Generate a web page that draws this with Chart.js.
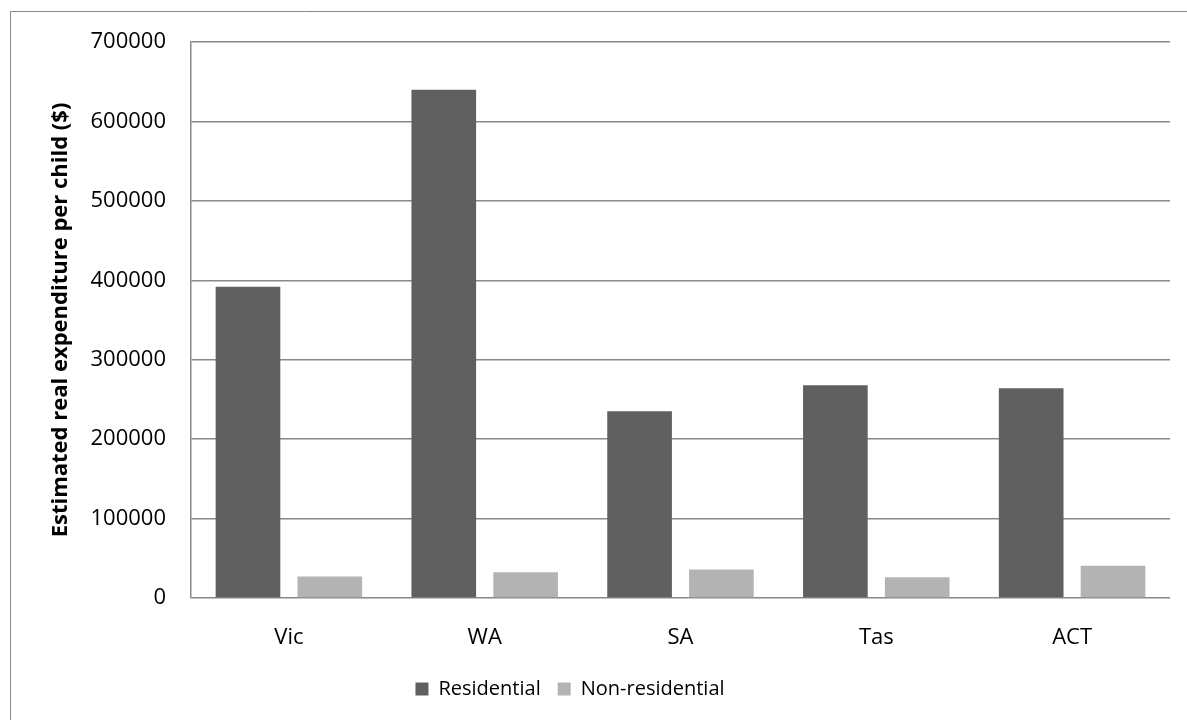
<!DOCTYPE html>
<html>
<head>
<meta charset="utf-8">
<script src="https://cdn.jsdelivr.net/npm/chart.js@4.4.0/dist/chart.umd.min.js"></script>
<style>
  body { margin: 0; background: #fff; }
  #wrap { width: 1187px; height: 720px; position: relative; }
</style>
</head>
<body>
<div id="wrap"><canvas id="canvas" width="1187" height="720"></canvas></div>
<script>
// categorias e valores
var estados = ['Vic', 'WA', 'SA', 'Tas', 'ACT'];
var residencial = [392000, 640000, 235000, 268000, 264000];
var naoResidencial = [27000, 32500, 36000, 26000, 40500];
var nomesSeries = ['Residential', 'Non-residential'];
var tituloY = 'Estimated real expenditure per child ($)';

var fonte = "'Open Sans', sans-serif";

// moldura cinza do grafico (so esquerda e topo aparecem)
var moldura = {
  id: 'moldura',
  beforeDraw: function(chart) {
    var ctx = chart.ctx;
    ctx.save();
    ctx.fillStyle = '#fff';
    ctx.fillRect(0, 0, chart.width, chart.height);
    ctx.strokeStyle = '#898989';
    ctx.lineWidth = 1;
    ctx.beginPath();
    ctx.moveTo(10.5, 720);
    ctx.lineTo(10.5, 11.5);
    ctx.lineTo(1187, 11.5);
    ctx.stroke();
    ctx.restore();
  }
};

// legenda um pouco mais para a esquerda, como no original
var puxaLegenda = {
  id: 'puxaLegenda',
  afterLayout: function(chart) {
    chart.legend.left -= 30;
  }
};

var ctx = document.getElementById('canvas').getContext('2d');
window.myBar = new Chart(ctx, {
  type: 'bar',
  data: {
    labels: estados,
    datasets: [{
      label: nomesSeries[0],
      backgroundColor: '#606060',
      data: residencial,
      categoryPercentage: 0.836,
      barPercentage: 0.79
    }, {
      label: nomesSeries[1],
      backgroundColor: '#b3b3b3',
      data: naoResidencial,
      categoryPercentage: 0.836,
      barPercentage: 0.79
    }]
  },
  plugins: [moldura, puxaLegenda],
  options: {
    responsive: false,
    animation: false,
    layout: { padding: { top: 42, right: 17, left: 0, bottom: 11 } },
    plugins: {
      legend: {
        position: 'bottom',
        labels: {
          font: { family: fonte, size: 20 },
          color: '#000',
          boxWidth: 13,
          boxHeight: 13,
          padding: 17
        }
      },
      tooltip: { enabled: false }
    },
    scales: {
      x: {
        grid: { display: false },
        border: { display: false },
        ticks: { font: { family: fonte, size: 22 }, color: '#000', padding: 19 },
        afterFit: function(s) { s.height = 64; }
      },
      y: {
        min: 0,
        max: 700000,
        ticks: {
          stepSize: 100000,
          font: { family: fonte, size: 22 },
          color: '#000',
          padding: 25,
          callback: function(v) { return String(v); }
        },
        grid: { color: '#888', lineWidth: 1.5, drawTicks: false },
        border: { color: '#888', width: 1.5 },
        title: {
          display: true,
          text: tituloY,
          font: { family: fonte, size: 22, weight: 'bold' },
          color: '#000',
          padding: { top: 48, bottom: 0 }
        },
        afterFit: function(s) { s.width = 191; }
      }
    }
  }
});
</script>
</body>
</html>
